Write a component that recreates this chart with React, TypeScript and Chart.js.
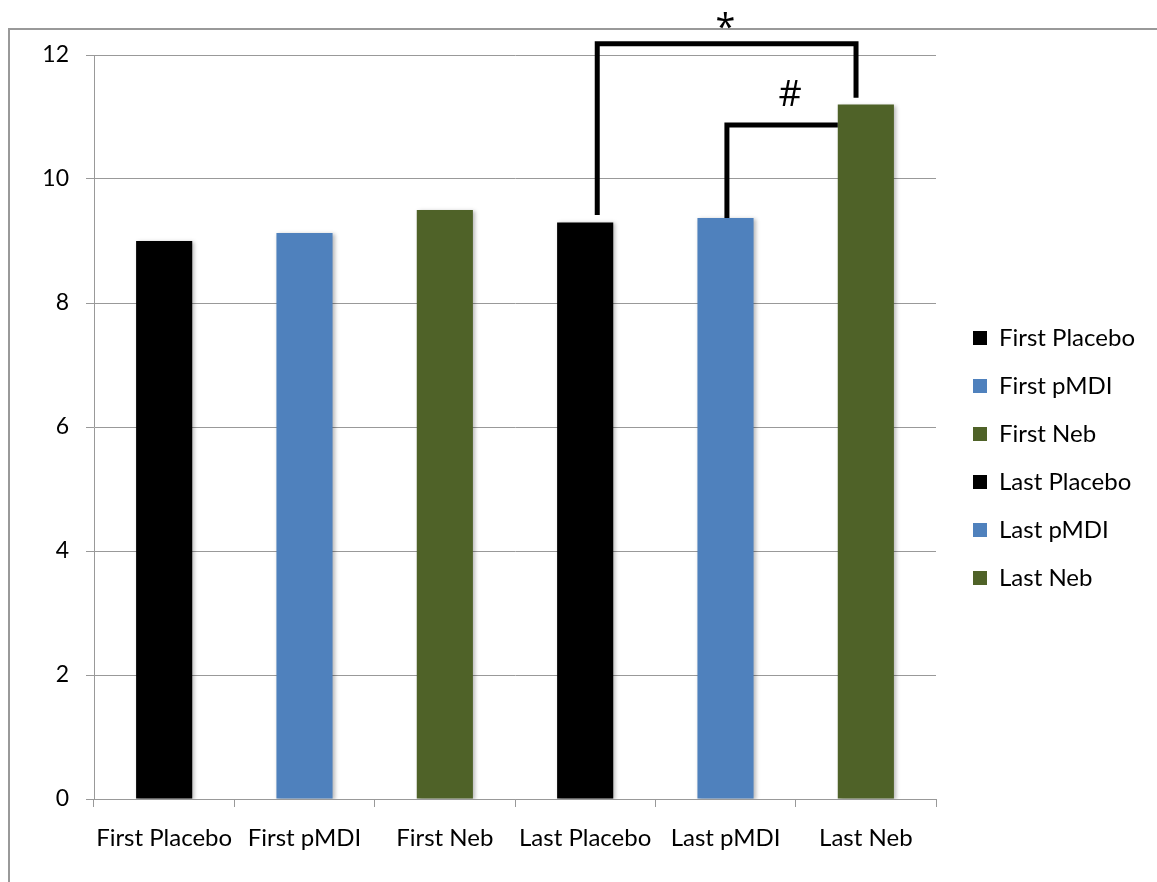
import React, { useEffect, useRef } from "react";
import { Chart, registerables } from "chart.js";

Chart.register(...registerables);

const categories = ["First Placebo", "First pMDI", "First Neb", "Last Placebo", "Last pMDI", "Last Neb"];
const values = [9.0, 9.13, 9.5, 9.3, 9.37, 11.2];
const barColors = ["#000000", "#4F81BD", "#4F6228", "#000000", "#4F81BD", "#4F6228"];
const yMin = 0;
const yMax = 12;
const yStep = 2;

// significance brackets (category-index positions, value levels)
const bracketLabels = ["*", "#"];
const bracketLeftX = [3.086, 4.01];
const bracketRightX = [4.93, 4.8];
const bracketLeftBase = [9.42, 9.37];
const bracketRightBase = [11.31, 10.87];
const bracketLevel = [12.18, 10.87];
const bracketLabelX = [4.0, 4.46];
const bracketLabelY = [12.43, 11.35];

const FONT = "Lato, 'Open Sans', sans-serif";
const MARK_FONT = "'Open Sans', sans-serif";

const shadowPlugin = {
  id: "barShadow",
  beforeDatasetDraw(chart: any) {
    const ctx = chart.ctx;
    ctx.save();
    ctx.shadowColor = "rgba(0,0,0,0.28)";
    ctx.shadowBlur = 4;
    ctx.shadowOffsetX = 2;
    ctx.shadowOffsetY = 1;
  },
  afterDatasetDraw(chart: any) {
    chart.ctx.restore();
  },
};

const legendShiftPlugin = {
  id: "legendShift",
  afterLayout(chart: any) {
    if (chart.legend) {
      chart.legend.left += 13;
      chart.legend.right += 13;
    }
  },
};

const bracketPlugin = {
  id: "brackets",
  afterDatasetsDraw(chart: any) {
    const { ctx, scales } = chart;
    const xs = scales.x;
    const ys = scales.y;
    ctx.save();
    ctx.strokeStyle = "#000";
    ctx.lineWidth = 5;
    ctx.lineJoin = "miter";
    ctx.lineCap = "butt";
    for (let i = 0; i < bracketLabels.length; i++) {
      const xl = xs.getPixelForValue(bracketLeftX[i]);
      const xr = xs.getPixelForValue(bracketRightX[i]);
      const yl = ys.getPixelForValue(bracketLeftBase[i]);
      const yr = ys.getPixelForValue(bracketRightBase[i]);
      const yt = ys.getPixelForValue(bracketLevel[i]);
      ctx.beginPath();
      ctx.moveTo(xl, yl);
      ctx.lineTo(xl, yt);
      ctx.lineTo(xr, yt);
      ctx.lineTo(xr, yr);
      ctx.stroke();
      ctx.fillStyle = "#000";
      ctx.font = `36px ${MARK_FONT}`;
      ctx.textAlign = "center";
      ctx.textBaseline = "middle";
      ctx.fillText(bracketLabels[i], xs.getPixelForValue(bracketLabelX[i]), ys.getPixelForValue(bracketLabelY[i]));
    }
    ctx.restore();
  },
};

export default function App() {
  const ref = useRef<HTMLCanvasElement | null>(null);
  useEffect(() => {
    if (!ref.current) return;
    const chart = new Chart(ref.current, {
      type: "bar",
      data: {
        labels: categories,
        datasets: [
          {
            data: values,
            backgroundColor: barColors,
            borderWidth: 0,
            categoryPercentage: 1,
            barPercentage: 0.4,
          },
        ],
      },
      options: {
        responsive: false,
        animation: false,
        devicePixelRatio: 1,
        layout: { padding: { top: 55, bottom: 21, left: 0, right: 25 } },
        plugins: {
          tooltip: { enabled: false },
          legend: {
            position: "right",
            align: "center",
            onClick: () => {},
            labels: {
              boxWidth: 14,
              boxHeight: 14,
              padding: 24,
              color: "#000",
              font: { family: FONT, size: 24 },
              generateLabels: () =>
                categories.map((c, i) => ({
                  text: c,
                  fillStyle: barColors[i],
                  strokeStyle: barColors[i],
                  lineWidth: 0,
                  hidden: false,
                  index: i,
                  datasetIndex: 0,
                  fontColor: "#000",
                })),
            },
          },
        },
        scales: {
          x: {
            grid: { display: true, drawOnChartArea: false, drawTicks: true, tickLength: 8, color: "#999", offset: true },
            border: { color: "#999", width: 1 },
            ticks: { color: "#000", font: { family: FONT, size: 24 }, padding: 17, maxRotation: 0 },
            afterFit: (s: any) => {
              s.height = 62;
            },
          },
          y: {
            min: yMin,
            max: yMax,
            grid: { color: "#999", tickLength: 8, lineWidth: 1 },
            border: { color: "#999", width: 1 },
            ticks: { stepSize: yStep, color: "#000", font: { family: FONT, size: 23 }, padding: 17 },
            afterFit: (s: any) => {
              s.width = 94;
            },
          },
        },
      },
      plugins: [shadowPlugin, legendShiftPlugin, bracketPlugin],
    });
    return () => chart.destroy();
  }, []);
  return (
    <div style={{ position: "fixed", left: 0, top: 0, width: 1157, height: 882, background: "#fff", overflow: "hidden" }}>
      <div
        style={{
          position: "absolute",
          left: 8,
          top: 28,
          width: 1200,
          height: 900,
          borderTop: "2px solid #999",
          borderLeft: "2px solid #999",
        }}
      />
      <canvas ref={ref} width={1157} height={882} style={{ position: "absolute", left: 0, top: 0 }} />
    </div>
  );
}
